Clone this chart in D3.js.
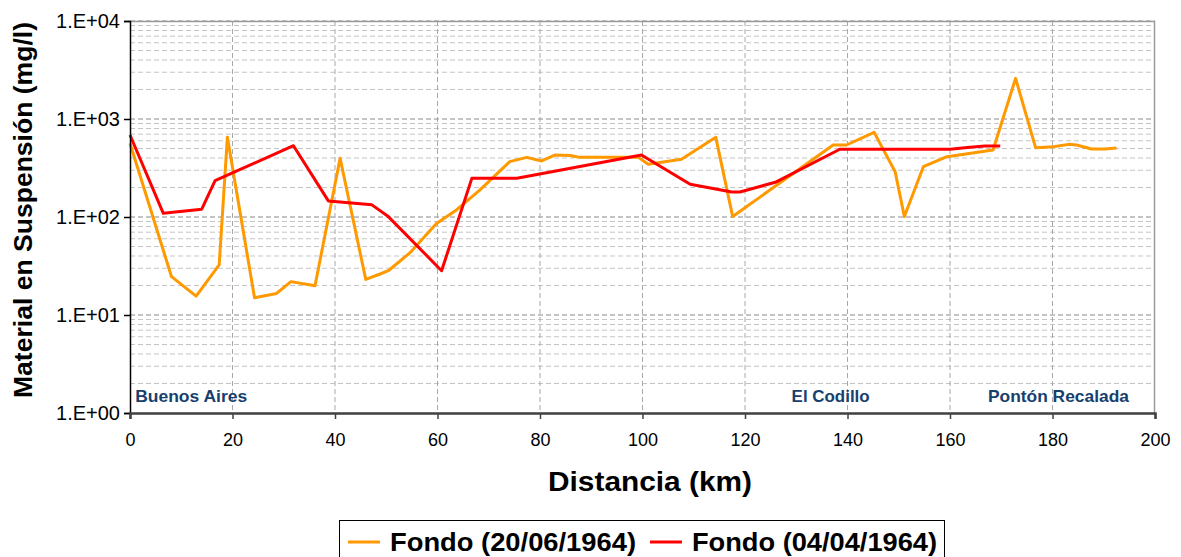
<!DOCTYPE html>
<html><head><meta charset="utf-8">
<script src="https://cdn.jsdelivr.net/npm/d3@7"></script>
<style>body{margin:0;background:#fff} svg{display:block;font-family:Arial,"Liberation Sans",sans-serif}</style>
</head><body><svg id="c" width="1181" height="557"></svg>
<script>
// ---- data ----
const orangeKm  = [0, 8.1, 12.9, 17.4, 19.0, 24.3, 28.6, 31.4, 36.1, 41.0, 46.0, 48.8, 50.4, 54.6, 59.8, 63.7, 68.3, 74.1, 77.4, 80.3, 82.9, 85.9, 87.8, 99.2, 101.1, 107.6, 114.3, 117.6, 137.2, 139.8, 145.2, 149.3, 151.1, 154.8, 159.4, 168.4, 172.8, 176.7, 180.2, 183.1, 184.7, 187.6, 190.2, 192.5];
const orangeVal = [565, 24.6, 15.6, 32.4, 650, 15.0, 16.6, 21.9, 19.9, 397, 23.1, 26.2, 28.3, 43, 86, 118, 189, 367, 406, 373, 429, 425, 406, 406, 345, 388, 650, 101, 543, 543, 731, 290, 101, 326, 412, 483, 2600, 510, 522, 551, 543, 494, 494, 506];
const redKm  = [0, 6.5, 14.0, 16.6, 31.9, 38.7, 47.2, 50.4, 60.8, 66.7, 75.5, 99.8, 109.3, 117.4, 119.0, 125.9, 138.5, 160.0, 163.9, 166.8, 169.8];
const redVal = [687, 109, 120, 235, 534, 146, 133, 101, 28.3, 248, 248, 429, 216, 180, 180, 226, 491, 491, 514, 530, 530];
const xTicks = [0, 20, 40, 60, 80, 100, 120, 140, 160, 180, 200];
const yTicks = [1, 10, 100, 1000, 10000];
const yTickLabels = ["1.E+00", "1.E+01", "1.E+02", "1.E+03", "1.E+04"];
const seriesNames = ["Fondo (20/06/1964)", "Fondo (04/04/1964)"];
const seriesColors = ["#FF9900", "#FF0000"];
const placeNames = ["Buenos Aires", "El Codillo", "Pontón Recalada"];
const placeKm = [1.0, 129.1, 167.4];
const xTitle = "Distancia (km)";
const yTitle = "Material en Suspensión (mg/l)";

// ---- layout ----
const L = 130, R = 1155, T = 21, B = 413;
const placeW = [112, 78, 141];
const svg = d3.select("#c");
const x = d3.scaleLinear().domain([0, 200]).range([L, R]);
const y = d3.scaleLog().domain([1, 10000]).range([B, T]);

// minor gridlines
const minor = [];
for (let d = 1; d < 10000; d *= 10) for (let k = 2; k <= 9; k++) minor.push(d * k);
svg.append("g").selectAll("line").data(minor).join("line")
  .attr("x1", L).attr("x2", R).attr("y1", d => y(d)).attr("y2", d => y(d))
  .attr("stroke", "#c4c4c4").attr("stroke-width", 1).attr("stroke-dasharray", "5,3");
// major gridlines
svg.append("g").selectAll("line").data(yTicks.slice(1)).join("line")
  .attr("x1", L).attr("x2", R).attr("y1", d => y(d)).attr("y2", d => y(d))
  .attr("stroke", "#8a8a8a").attr("stroke-width", 1).attr("stroke-dasharray", "5,3");
// vertical gridlines
svg.append("g").selectAll("line").data(xTicks.slice(1, -1)).join("line")
  .attr("x1", d => x(d)).attr("x2", d => x(d)).attr("y1", T).attr("y2", B)
  .attr("stroke", "#a8a8a8").attr("stroke-width", 1).attr("stroke-dasharray", "5,3");

// frame top/right
svg.append("path").attr("d", `M${L},${T+0.5}H${R-0.5}V${B}`).attr("fill", "none")
  .attr("stroke", "#9a9a9a").attr("stroke-width", 1.5);

// place labels
svg.append("g").selectAll("text").data(placeNames).join("text")
  .attr("x", (d, i) => x(placeKm[i])).attr("y", 401.5)
  .attr("font-size", 16.5).attr("font-weight", "bold").attr("fill", "#17406D")
  .attr("textLength", (d, i) => placeW[i]).attr("lengthAdjust", "spacingAndGlyphs")
  .text(d => d);

// lines
const line = d3.line().x(d => x(d[0])).y(d => y(d[1]));
const orangePts = orangeKm.map((k, i) => [k, orangeVal[i]]);
const redPts = redKm.map((k, i) => [k, redVal[i]]);
svg.append("path").datum(orangePts).attr("d", line).attr("fill", "none")
  .attr("stroke", seriesColors[0]).attr("stroke-width", 3).attr("stroke-linejoin", "round");
svg.append("path").datum(redPts).attr("d", line).attr("fill", "none")
  .attr("stroke", seriesColors[1]).attr("stroke-width", 3).attr("stroke-linejoin", "round");

// y axis
const yAxis = d3.axisLeft(y).tickValues(yTicks).tickFormat((d, i) => yTickLabels[i]).tickSize(6).tickPadding(4);
const gy = svg.append("g").attr("transform", `translate(${L},0)`).call(yAxis);
gy.select(".domain").attr("stroke", "#000").attr("stroke-width", 1.5);
gy.selectAll(".tick line").attr("stroke", "#000").attr("stroke-width", 1.5);
gy.selectAll(".tick text").attr("font-size", 20).attr("font-family", "Arial, 'Liberation Sans', sans-serif").attr("fill", "#000");

// x axis
const xAxis = d3.axisBottom(x).tickValues(xTicks).tickFormat(d3.format("d")).tickSize(6).tickPadding(14);
const gx = svg.append("g").attr("transform", `translate(0,${B})`).call(xAxis);
gx.select(".domain").attr("stroke", "#404040").attr("stroke-width", 2.5);
gx.selectAll(".tick line").attr("stroke", "#404040").attr("stroke-width", 1.5);
gx.selectAll(".tick text").attr("font-size", 18).attr("font-family", "Arial, 'Liberation Sans', sans-serif").attr("fill", "#000");

// titles
svg.append("text").attr("x", 650).attr("y", 491).attr("text-anchor", "middle")
  .attr("font-size", 27).attr("font-weight", "bold").attr("textLength", 204).attr("lengthAdjust", "spacingAndGlyphs")
  .text(xTitle);
svg.append("text").attr("transform", "translate(32,210) rotate(-90)").attr("text-anchor", "middle")
  .attr("font-size", 26).attr("font-weight", "bold").attr("textLength", 376).attr("lengthAdjust", "spacingAndGlyphs")
  .text(yTitle);

// legend
const lg = svg.append("g");
lg.append("rect").attr("x", 339.5).attr("y", 520.5).attr("width", 605).attr("height", 50)
  .attr("fill", "#fff").attr("stroke", "#000").attr("stroke-width", 1);
const legX = [348, 650];
const legTextW = [246, 245];
seriesNames.forEach((n, i) => {
  lg.append("line").attr("x1", legX[i]).attr("x2", legX[i] + 32).attr("y1", 542).attr("y2", 542)
    .attr("stroke", seriesColors[i]).attr("stroke-width", 3);
  lg.append("text").attr("x", legX[i] + 42).attr("y", 551).attr("font-size", 25).attr("font-weight", "bold")
    .attr("textLength", legTextW[i]).attr("lengthAdjust", "spacingAndGlyphs").text(n);
});
</script></body></html>
